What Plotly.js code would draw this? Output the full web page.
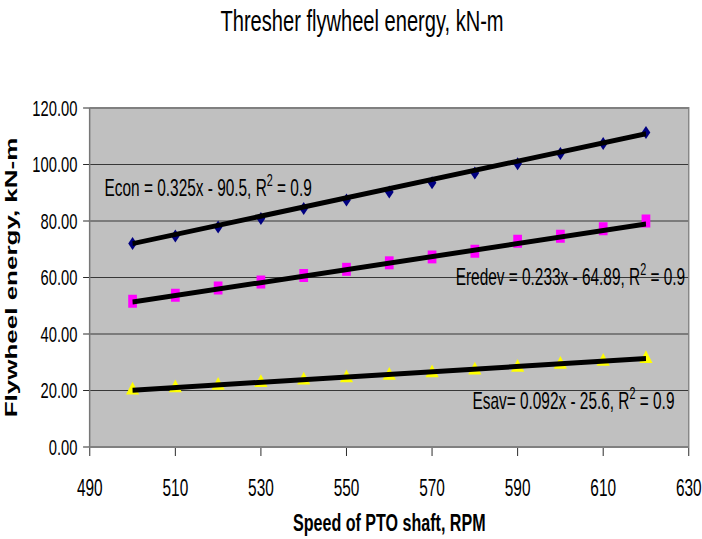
<!DOCTYPE html>
<html><head><meta charset="utf-8">
<script src="https://cdn.plot.ly/plotly-3.0.1.min.js"></script>
<style>
html,body{margin:0;padding:0;overflow:hidden;background:#fff;}
#wrap{width:702px;height:539px;overflow:hidden;position:relative;}
#chart{width:1048px;height:539px;transform:scaleX(0.67);transform-origin:0 0;position:absolute;left:0;top:0;}
</style></head><body><div id="wrap"><div id="chart"></div></div>
<script>
// Data
const speedRPM = [500, 510, 520, 530, 540, 550, 560, 570, 580, 590, 600, 610, 620];
const econ   = [72.0, 74.7, 77.9, 80.9, 84.4, 87.4, 90.3, 93.5, 97.0, 100.3, 103.9, 107.4, 111.3];
const eredev = [51.6, 53.7, 56.3, 58.4, 60.7, 62.9, 65.2, 67.3, 69.3, 72.8, 74.6, 77.3, 80.0];
const esav   = [20.1, 20.9, 21.8, 22.7, 23.6, 24.4, 25.3, 26.2, 27.2, 28.1, 29.2, 30.3, 31.2];
// Linear trend lines (end points)
const trendX      = [500, 620];
const econTrend   = [72.0, 110.9];
const eredevTrend = [51.3, 78.9];
const esavTrend   = [20.1, 31.3];
// Axis ticks
const xTicks = [490, 510, 530, 550, 570, 590, 610, 630];
const yTicks = [0, 20, 40, 60, 80, 100, 120];
// Texts
const chartTitle = 'Thresher flywheel energy, kN-m';
const xTitle = 'Speed of PTO shaft, RPM';
const yTitle = 'Flywheel energy, kN-m';
const eqEcon = 'Econ = 0.325x - 90.5, R<sup>2</sup> = 0.9';
const eqEredev = 'Eredev = 0.233x - 64.89, R<sup>2</sup> = 0.9';
const eqEsav = 'Esav= 0.092x - 25.6, R<sup>2</sup> = 0.9';

const FONT = 'Arial, "Liberation Sans", sans-serif';

const traces = [
  {x: speedRPM, y: econ, mode: 'markers', name: 'Econ',
   marker: {symbol: 'diamond', size: 10, color: '#000080'}},
  {x: speedRPM, y: eredev, mode: 'markers', name: 'Eredev',
   marker: {symbol: 'square', size: 13, color: '#FF00FF'}},
  {x: speedRPM, y: esav, mode: 'markers', name: 'Esav',
   marker: {symbol: 'triangle-up', size: 17, color: '#FFFF00'}},
  {x: trendX, y: econTrend, mode: 'lines', name: 'Linear (Econ)',
   line: {color: '#000000', width: 5}},
  {x: trendX, y: eredevTrend, mode: 'lines', name: 'Linear (Eredev)',
   line: {color: '#000000', width: 5}},
  {x: trendX, y: esavTrend, mode: 'lines', name: 'Linear (Esav)',
   line: {color: '#000000', width: 5}}
];

const layout = {
  width: 1048, height: 539,
  margin: {l: 134, r: 20, t: 108, b: 92, pad: 0},
  paper_bgcolor: '#ffffff',
  plot_bgcolor: '#C0C0C0',
  showlegend: false,
  font: {family: FONT, color: '#000000'},
  title: {text: chartTitle, font: {family: FONT, size: 30, color: '#000000'},
          x: 0.5156, xanchor: 'center', xref: 'container', y: 1 - 21/539, yref: 'container', yanchor: 'middle'},
  xaxis: {
    range: [490, 630], tickvals: xTicks, ticktext: xTicks.map(String),
    showgrid: false, zeroline: false,
    showline: true, linecolor: '#000000', linewidth: 1,
    ticks: 'outside', ticklen: 8, tickcolor: '#000000', tickwidth: 1,
    ticklabelstandoff: 12,
    tickfont: {family: FONT, size: 23, color: '#000000'},
    title: {text: xTitle, font: {family: FONT, size: 24, color: '#000000', weight: 'bold'}, standoff: 14}
  },
  yaxis: {
    range: [0, 120], tickvals: yTicks, ticktext: yTicks.map(v => v.toFixed(2)),
    showgrid: true, gridcolor: '#1a1a1a', gridwidth: 1, zeroline: false,
    showline: true, linecolor: '#000000', linewidth: 1,
    ticks: 'outside', ticklen: 9, tickcolor: '#000000', tickwidth: 1,
    ticklabelstandoff: 4,
    tickfont: {family: FONT, size: 22, color: '#000000'},
    title: {text: yTitle, font: {family: FONT, size: 26, color: '#000000', weight: 'bold'}, standoff: 14}
  },
  shapes: [
    {type: 'rect', xref: 'paper', yref: 'paper', x0: 0, x1: 1, y0: 0, y1: 1,
     line: {color: '#808080', width: 2}, fillcolor: 'rgba(0,0,0,0)', layer: 'above'}
  ],
  annotations: [
    {text: eqEcon, x: 493.1, y: 92.3, xref: 'x', yref: 'y', xanchor: 'left', yanchor: 'middle',
     showarrow: false, font: {family: FONT, size: 23, color: '#000000'}},
    {text: eqEredev, x: 575.2, y: 60.8, xref: 'x', yref: 'y', xanchor: 'left', yanchor: 'middle',
     showarrow: false, font: {family: FONT, size: 23, color: '#000000'}},
    {text: eqEsav, x: 579.1, y: 17.1, xref: 'x', yref: 'y', xanchor: 'left', yanchor: 'middle',
     showarrow: false, font: {family: FONT, size: 23, color: '#000000'}}
  ]
};

Plotly.newPlot('chart', traces, layout, {displayModeBar: false, responsive: false});
</script></body></html>
